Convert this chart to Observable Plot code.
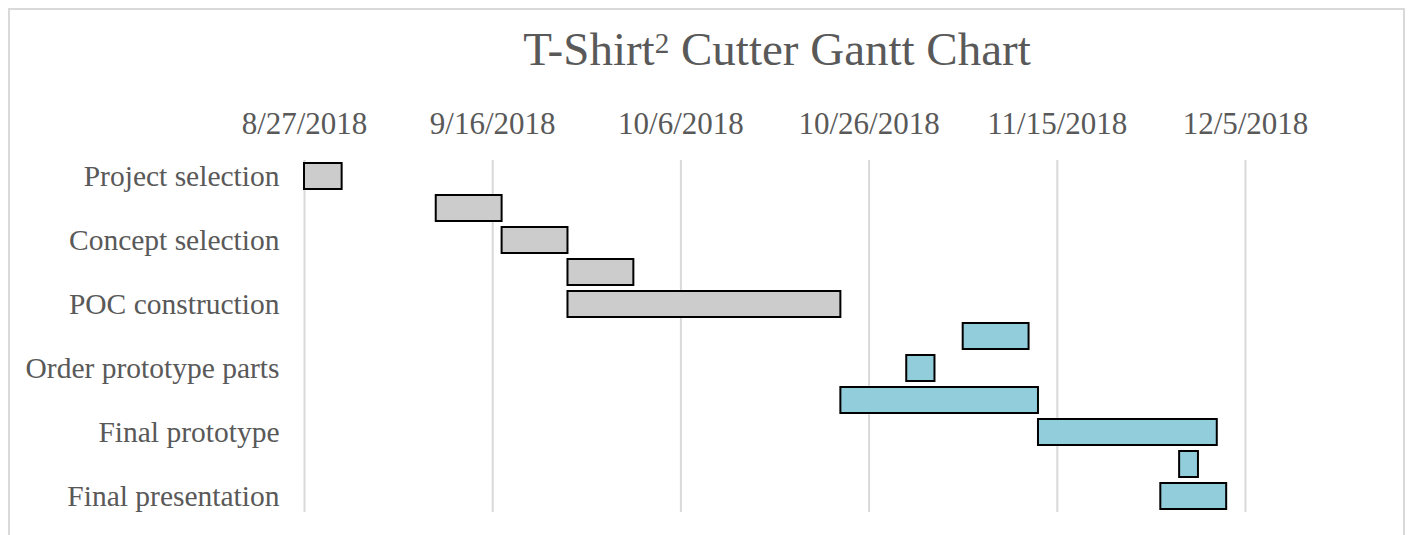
<!DOCTYPE html>
<html>
<head>
<meta charset="utf-8">
<script src="https://cdn.jsdelivr.net/npm/d3@7"></script>
<script src="https://cdn.jsdelivr.net/npm/@observablehq/plot@0.6"></script>
<style>
  html, body { margin: 0; padding: 0; background: #ffffff; }
  #wrap { position: relative; width: 1408px; height: 535px; overflow: hidden; background: #ffffff; }
  #frame { position: absolute; left: 8px; top: 8px; width: 1393px; height: 600px; border: 2px solid #d9d9d9; box-sizing: content-box; }
  #title { position: absolute; left: 777px; top: 26px; transform: translateX(-50%); white-space: nowrap;
           font-family: "Liberation Serif", "Times New Roman", serif; font-size: 47px; line-height: 1; color: #595959; }
  #title .sup { font-size: 0.62em; vertical-align: 0.4em; }
  #chart { position: absolute; left: 0; top: 0; }
</style>
</head>
<body>
<div id="wrap">
  <div id="frame"></div>
  <div id="chart"></div>
  <div id="title">T-Shirt<span class="sup">2</span> Cutter Gantt Chart</div>
</div>
<script>
// Row labels (Excel shows every other category label)
const labels = ["Project selection", "", "Concept selection", "", "POC construction", "",
                "Order prototype parts", "", "Final prototype", "", "Final presentation"];
const starts = ["2018-08-27", "2018-09-10", "2018-09-17", "2018-09-24", "2018-09-24", "2018-11-05",
                "2018-10-30", "2018-10-23", "2018-11-13", "2018-11-28", "2018-11-26"];
const ends   = ["2018-08-31", "2018-09-17", "2018-09-24", "2018-10-01", "2018-10-23", "2018-11-12",
                "2018-11-02", "2018-11-13", "2018-12-02", "2018-11-30", "2018-12-03"];
const groups = [1, 1, 1, 1, 1, 2, 2, 2, 2, 2, 2];
const tickDates = ["2018-08-27", "2018-09-16", "2018-10-06", "2018-10-26", "2018-11-15", "2018-12-05"];

const data = labels.map((l, i) => ({
  row: i,
  start: new Date(starts[i]),
  end: new Date(ends[i]),
  group: groups[i]
}));
const ticks = tickDates.map(d => new Date(d));
const fmt = d => `${d.getUTCMonth() + 1}/${d.getUTCDate()}/${d.getUTCFullYear()}`;

const chart = Plot.plot({
  width: 1408,
  height: 535,
  marginLeft: 304,
  marginRight: 163,
  marginTop: 160,
  marginBottom: 23,
  style: { background: "none", fontFamily: "\"Liberation Serif\", \"Times New Roman\", serif", color: "#595959" },
  x: { type: "utc", domain: [ticks[0], ticks[ticks.length - 1]] },
  y: { type: "band", domain: d3.range(labels.length), padding: 0 },
  color: { domain: [1, 2], range: ["#cccccc", "#92cddc"] },
  marks: [
    Plot.gridX(ticks, { stroke: "#d9d9d9", strokeOpacity: 1, strokeWidth: 2 }),
    Plot.barX(data, {
      x1: "start", x2: "end", y: "row", fill: "group",
      stroke: "#000000", strokeWidth: 2, insetTop: 3, insetBottom: 3
    }),
    Plot.axisX(ticks, {
      anchor: "top", tickSize: 0, tickPadding: 27, tickFormat: fmt,
      fontSize: 31, fill: "#595959", label: null
    }),
    Plot.axisY(d3.range(labels.length), {
      anchor: "left", tickSize: 0, tickPadding: 25, tickFormat: i => labels[i],
      fontSize: 29.5, fill: "#595959", label: null
    })
  ]
});
document.getElementById("chart").appendChild(chart);
</script>
</body>
</html>
